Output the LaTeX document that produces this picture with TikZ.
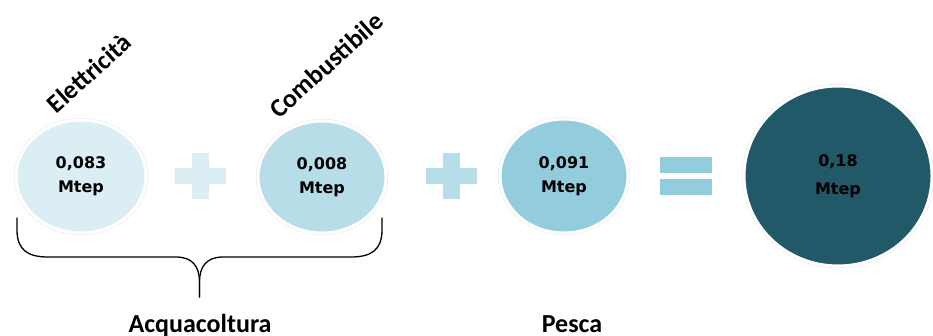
\documentclass[tikz,border=0pt]{standalone}
\usepackage{fontspec}
\setmainfont{Carlito}
\newfontfamily\numfont{DejaVu Sans}
\usetikzlibrary{shapes.geometric}
\definecolor{aquaA}{HTML}{DAEEF3}
\definecolor{aquaB}{HTML}{B7DEE8}
\definecolor{aquaC}{HTML}{93CDDD}
\definecolor{aquaD}{HTML}{215968}
\begin{document}
\begin{tikzpicture}[x=1pt, y=-1pt, line join=round, line cap=round,
    bolla/.style={ellipse, inner sep=0pt, align=center, fill=#1, draw=white, line width=3pt,
        preaction={draw=black!8, line width=4.2pt}, font=\numfont\bfseries\fontsize{16}{24}\selectfont},
    etichetta/.style={font=\bfseries\fontsize{26}{30}\selectfont},
    graffa/.style={line width=1.3pt}]
    \useasboundingbox (0,0) rectangle (933,335);
    % bolle
    \node[bolla=aquaA, minimum width=130pt, minimum height=113pt] (elet) at (81,176.5) {0,083\\Mtep};
    \node[bolla=aquaB, minimum width=128pt, minimum height=112pt] (comb) at (322,177) {0,008\\Mtep};
    \node[bolla=aquaC, minimum width=128pt, minimum height=114pt] (pesca) at (564,176) {0,091\\Mtep};
    \node[bolla=aquaD, minimum width=188pt, minimum height=180pt] (tot) at (838,176) {0,18\\[4pt]Mtep};
    \node[etichetta, rotate=42] (lelet) at (89,73) {Elettricità};
    \node[etichetta, rotate=42] (lcomb) at (326,65) {Combustibile};
    % segni
    \foreach \px/\col in {200.5/aquaA, 451/aquaB} {
        \fill[\col] (\px-25.5,168) rectangle (\px+25.5,184);
        \fill[\col] (\px-8.5,153) rectangle (\px+8.5,199);
    }
    \foreach \ey in {157,179} \fill[aquaC] (660,\ey) rectangle (712,\ey+15.5);
    % graffa
    \coordinate (bl) at (17,218);
    \coordinate (br) at (382,218);
    \coordinate (bp) at (199.5,297);
    \draw[graffa] (bl) -- (17,230) .. controls (17,250) and (28,257) .. (48,257) -- (176,257) .. controls (192,257) and (199.5,266) .. (199.5,282) -- (bp);
    \draw[graffa] (br) -- (382,230) .. controls (382,250) and (371,257) .. (351,257) -- (223,257) .. controls (207,257) and (199.5,266) .. (199.5,282) -- (bp);
    \node[etichetta, anchor=base] (acqua) at (200,332) {Acquacoltura};
    \node[etichetta, anchor=base] (lpesca) at (572,332) {Pesca};
\end{tikzpicture}
\end{document}
